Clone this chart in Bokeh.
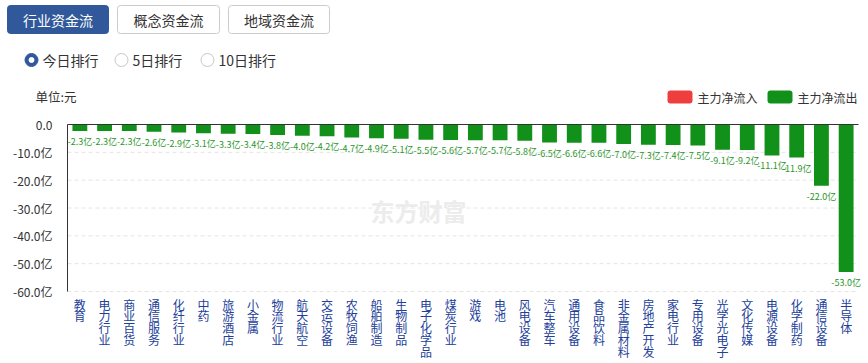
from bokeh.plotting import figure
from bokeh.models import (Range1d, FixedTicker, CustomJSTickFormatter, LinearAxis,
                          ColumnDataSource, Label, BoxAnnotation)
from bokeh.embed import file_html
from bokeh.resources import INLINE
from bokeh.core.properties import value

# ---------------- data ----------------
categories = ["教育", "电力行业", "商业百货", "通信服务", "化纤行业", "中药", "旅游酒店", "小金属",
              "物流行业", "航天航空", "交运设备", "农牧饲渔", "船舶制造", "生物制品", "电子化学品",
              "煤炭行业", "游戏", "电池", "风电设备", "汽车整车", "通用设备", "食品饮料",
              "非金属材料", "房地产开发", "家电行业", "专用设备", "光学光电子", "文化传媒",
              "电源设备", "化学制药", "通信设备", "半导体"]
values = [-2.3, -2.3, -2.3, -2.6, -2.9, -3.1, -3.3, -3.4, -3.8, -4.0, -4.2, -4.7, -4.9, -5.1,
          -5.5, -5.6, -5.7, -5.7, -5.8, -6.5, -6.6, -6.6, -7.0, -7.3, -7.4, -7.5, -9.1, -9.2,
          -11.1, -11.9, -22.0, -53.0]
y_ticks = [0, -10, -20, -30, -40, -50, -60]
tabs = ["行业资金流", "概念资金流", "地域资金流"]
radios = ["今日排行", "5日排行", "10日排行"]
legend_items = ["主力净流入", "主力净流出"]
unit_text = "单位:元"

FONT = "Noto Sans CJK SC"
GREEN = "#11901a"
RED = "#ef3e3e"
BLUE = "#30589a"
TXT = "#333333"
LBL = "#22409a"

W, H = 868, 363
FL, FR, FT, FB = 67, 858, 124, 291  # plot area edges in page pixels

n = len(categories)
idx = list(range(n))
cw = (FR - FL) / n                       # px per category
x0 = -0.5 - FL / cw
x1 = x0 + W / cw
ymax, ymin = max(y_ticks), min(y_ticks)
ky = (FB - FT) / (ymax - ymin)           # px per unit
y1 = ymax + FT / ky
y0 = y1 - H / ky

p = figure(width=W, height=H, x_range=Range1d(x0, x1), y_range=Range1d(y0, y1),
           x_axis_type=None, toolbar_location=None, output_backend="svg", min_border=0)
p.outline_line_color = None
p.grid.visible = False

# y axis (drawn at the left edge of the plot area)
ya = p.yaxis[0]
ya.fixed_location = -0.5
ya.bounds = (ymin, ymax)
ya.ticker = FixedTicker(ticks=y_ticks)
ya.formatter = CustomJSTickFormatter(
    code="return tick == 0 ? '0.0' : tick.toFixed(1) + '亿';")
ya.major_tick_line_color = None
ya.minor_tick_line_color = None
ya.axis_line_color = TXT
ya.major_label_text_font = FONT
ya.major_label_text_font_size = "12px"
ya.major_label_text_color = TXT
ya.major_label_standoff = 9

# dashed horizontal grid lines, limited to the plot area
gt = [t for t in y_ticks if t != 0]
p.segment(x0=[-0.5] * len(gt), x1=[n - 0.5] * len(gt), y0=gt, y1=gt,
          line_color="#e4e4e4", line_dash="4 3", line_width=1)

# zero line (category axis line)
xa = LinearAxis(fixed_location=0, bounds=(-0.5, n - 0.5), ticker=FixedTicker(ticks=[]),
                axis_line_color=TXT, major_tick_line_color=None,
                minor_tick_line_color=None, major_label_text_font_size="0px")
p.add_layout(xa, "below")

# faint watermark
p.add_layout(Label(x=418, y=H - 210, x_units="screen", y_units="screen", text="东方财富",
                   text_font=FONT, text_font_size="24px", text_font_style="bold",
                   text_color="#ececec", text_align="center", text_baseline="middle"))

# bars + value labels
src = ColumnDataSource(dict(i=idx, val=values, lab=[f"{v:.1f}亿" for v in values]))
p.vbar(x="i", top=0, bottom="val", width=0.6, source=src, fill_color=GREEN,
       line_color=None)
p.text(x="i", y="val", text="lab", source=src, y_offset=4, text_color="#2a962a",
       text_font=value(FONT), text_font_size="9px", text_align="center",
       text_baseline="top")

# stacked (vertical) category labels under the plot area
lx, lt, lo = [], [], []
for i, c in enumerate(categories):
    for j, ch in enumerate(c):
        lx.append(i)
        lt.append(ch)
        lo.append(12.5 + 11.8 * j)
p.text(x=lx, y=[ymin] * len(lx), text=lt, y_offset=lo, text_color=LBL,
       text_font=value(FONT), text_font_size="12px", text_align="center",
       text_baseline="middle")


def box(l, r, t, b, fill, line=None, radius=0):
    p.add_layout(BoxAnnotation(left=l, right=r, top=H - t, bottom=H - b,
                               left_units="screen", right_units="screen",
                               top_units="screen", bottom_units="screen",
                               fill_color=fill, fill_alpha=1.0,
                               line_color=line, line_alpha=1.0, line_width=1,
                               border_radius=int(radius)))


def label(x, y, text, size, color=TXT, align="left"):
    p.add_layout(Label(x=x, y=H - y, x_units="screen", y_units="screen", text=text,
                       text_font=FONT, text_font_size=size, text_color=color,
                       text_align=align, text_baseline="middle"))


# tabs
tab_left = [7, 117, 228]
tab_right = [108, 219, 329]
for i, t in enumerate(tabs):
    sel = i == 0
    box(tab_left[i], tab_right[i], 5, 33, BLUE if sel else "white",
        BLUE if sel else "#cccccc", 3)
    label((tab_left[i] + tab_right[i]) / 2, 19.5, t, "14px",
          "white" if sel else TXT, "center")

# radios
rx = [31, 121, 207]
tx = [42, 132, 218]
for i, t in enumerate(radios):
    if i == 0:
        box(rx[i] - 6.5, rx[i] + 6.5, 59.5 - 6.5, 59.5 + 6.5, BLUE, BLUE, 7)
        box(rx[i] - 2.5, rx[i] + 2.5, 59.5 - 2.5, 59.5 + 2.5, "white", "white", 3)
    else:
        box(rx[i] - 6.5, rx[i] + 6.5, 59.5 - 6.5, 59.5 + 6.5, "white", "#c8c8c8", 7)
    label(tx[i], 59.5, t, "14px")

# unit text
label(35, 95.5, unit_text, "12.5px")

# legend
lg_left = [667, 767]
lg_colors = [RED, GREEN]
for i, t in enumerate(legend_items):
    box(lg_left[i], lg_left[i] + 25, 90, 103, lg_colors[i], None, 3)
    label(lg_left[i] + 30, 96.5, t, "12px")

open("out.html", "w").write(file_html(p, INLINE))
